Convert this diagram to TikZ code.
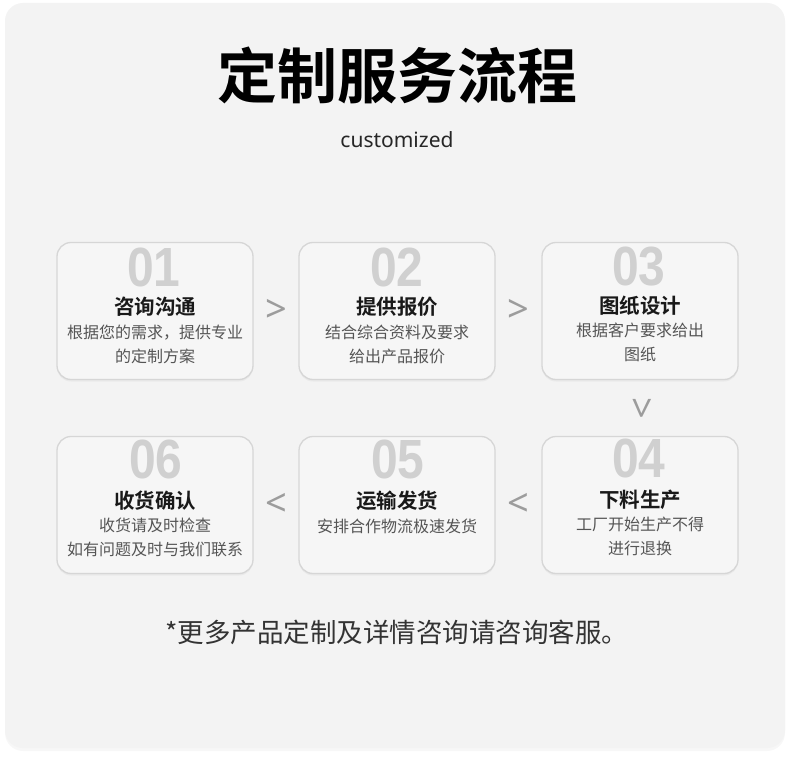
\documentclass[tikz,border=0pt]{standalone}
\usepackage{fontspec}
\setmainfont{Noto Sans}
\newfontfamily\cjk{Noto Sans CJK SC}
\newfontfamily\cjkbf{Noto Sans CJK SC Bold}
\newfontfamily\numfont{Liberation Sans Bold}
\usetikzlibrary{positioning,shadows}

\definecolor{pagebg}{HTML}{F3F3F3}
\definecolor{boxbg}{HTML}{F6F6F6}
\definecolor{boxline}{HTML}{D6D6D6}
\definecolor{numgray}{HTML}{D0D0D0}
\definecolor{descgray}{HTML}{555555}
\definecolor{arrowgray}{HTML}{9C9C9C}

\begin{document}
\begin{tikzpicture}[x=1pt, y=-1pt,
    stepbox/.style={draw=boxline, line width=1.3pt, fill=boxbg, rounded corners=14pt,
        minimum width=196pt, minimum height=137pt, inner sep=0pt,
        drop shadow={opacity=0.08, shadow xshift=0pt, shadow yshift=-2pt}},
    stepnum/.style={anchor=north, inner sep=0pt, text=numgray,
        font=\numfont\fontsize{40}{40}\selectfont},
    steptitle/.style={inner sep=0pt, text=black!90, font=\cjkbf\fontsize{20.5}{22}\selectfont},
    stepdesc/.style={inner sep=0pt, align=center, text=descgray,
        font=\cjk\fontsize{16}{24}\selectfont},
    chev/.style={inner sep=0pt, text=arrowgray, font=\fontsize{38}{38}\selectfont}]
    \useasboundingbox (0,0) rectangle (790,762);

    % page
    \fill [white] (0,0) rectangle (790,762);
    \fill [pagebg, rounded corners=18pt,
        drop shadow={opacity=0.06, shadow xshift=0pt, shadow yshift=-3pt}]
        (5,3) rectangle (785,748);

    \node [inner sep=0pt, font=\cjkbf\fontsize{60}{60}\selectfont] (title) at (397,75) {定制服务流程};
    \node [inner sep=0pt, text=black!85, font=\fontsize{21}{21}\selectfont] (sub) at (397,140) {customized};

    % steps, first row
    \node [stepbox] (s1) at (155,311) {};
    \node [stepbox] (s2) at (397,311) {};
    \node [stepbox] (s3) at (640,311) {};
    % second row
    \node [stepbox] (s6) at (155,505) {};
    \node [stepbox] (s5) at (397,505) {};
    \node [stepbox] (s4) at (640,505) {};

    \node [stepnum] (n1) at (154,248) {\scalebox{1.2}[1.38]{01}};
    \node [stepnum] (n2) at (397,248) {\scalebox{1.2}[1.38]{02}};
    \node [stepnum] (n3) at (639,247) {\scalebox{1.2}[1.38]{03}};
    \node [stepnum] (n6) at (156,440) {\scalebox{1.2}[1.38]{06}};
    \node [stepnum] (n5) at (398,440) {\scalebox{1.2}[1.38]{05}};
    \node [stepnum] (n4) at (639,439) {\scalebox{1.2}[1.38]{04}};

    \node [steptitle] (t1) at (155,307) {咨询沟通};
    \node [stepdesc]  (d1) at (155,344) {根据您的需求，提供专业\\的定制方案};
    \node [steptitle] (t2) at (397,307) {提供报价};
    \node [stepdesc]  (d2) at (397,344) {结合综合资料及要求\\给出产品报价};
    \node [steptitle] (t3) at (640,306) {图纸设计};
    \node [stepdesc]  (d3) at (640,342) {根据客户要求给出\\图纸};

    \node [steptitle] (t6) at (155,501) {收货确认};
    \node [stepdesc]  (d6) at (155,537) {收货请及时检查\\如有问题及时与我们联系};
    \node [steptitle] (t5) at (397,501) {运输发货};
    \node [stepdesc]  (d5) at (397,526) {安排合作物流极速发货};
    \node [steptitle] (t4) at (640,500) {下料生产};
    \node [stepdesc]  (d4) at (640,536) {工厂开始生产不得\\进行退换};

    % chevrons between the steps
    \path (s1) -- node [chev] {>} (s2);
    \path (s2) -- node [chev] {>} (s3);
    \path (s3) -- node [chev, rotate=-90] {>} (s4);
    \path (s4) -- node [chev] {<} (s5);
    \path (s5) -- node [chev] {<} (s6);

    \node [inner sep=0pt, text=black!80, font=\cjk\fontsize{26.5}{26.5}\selectfont] (note) at (397,632)
        {*更多产品定制及详情咨询请咨询客服。};
\end{tikzpicture}
\end{document}
